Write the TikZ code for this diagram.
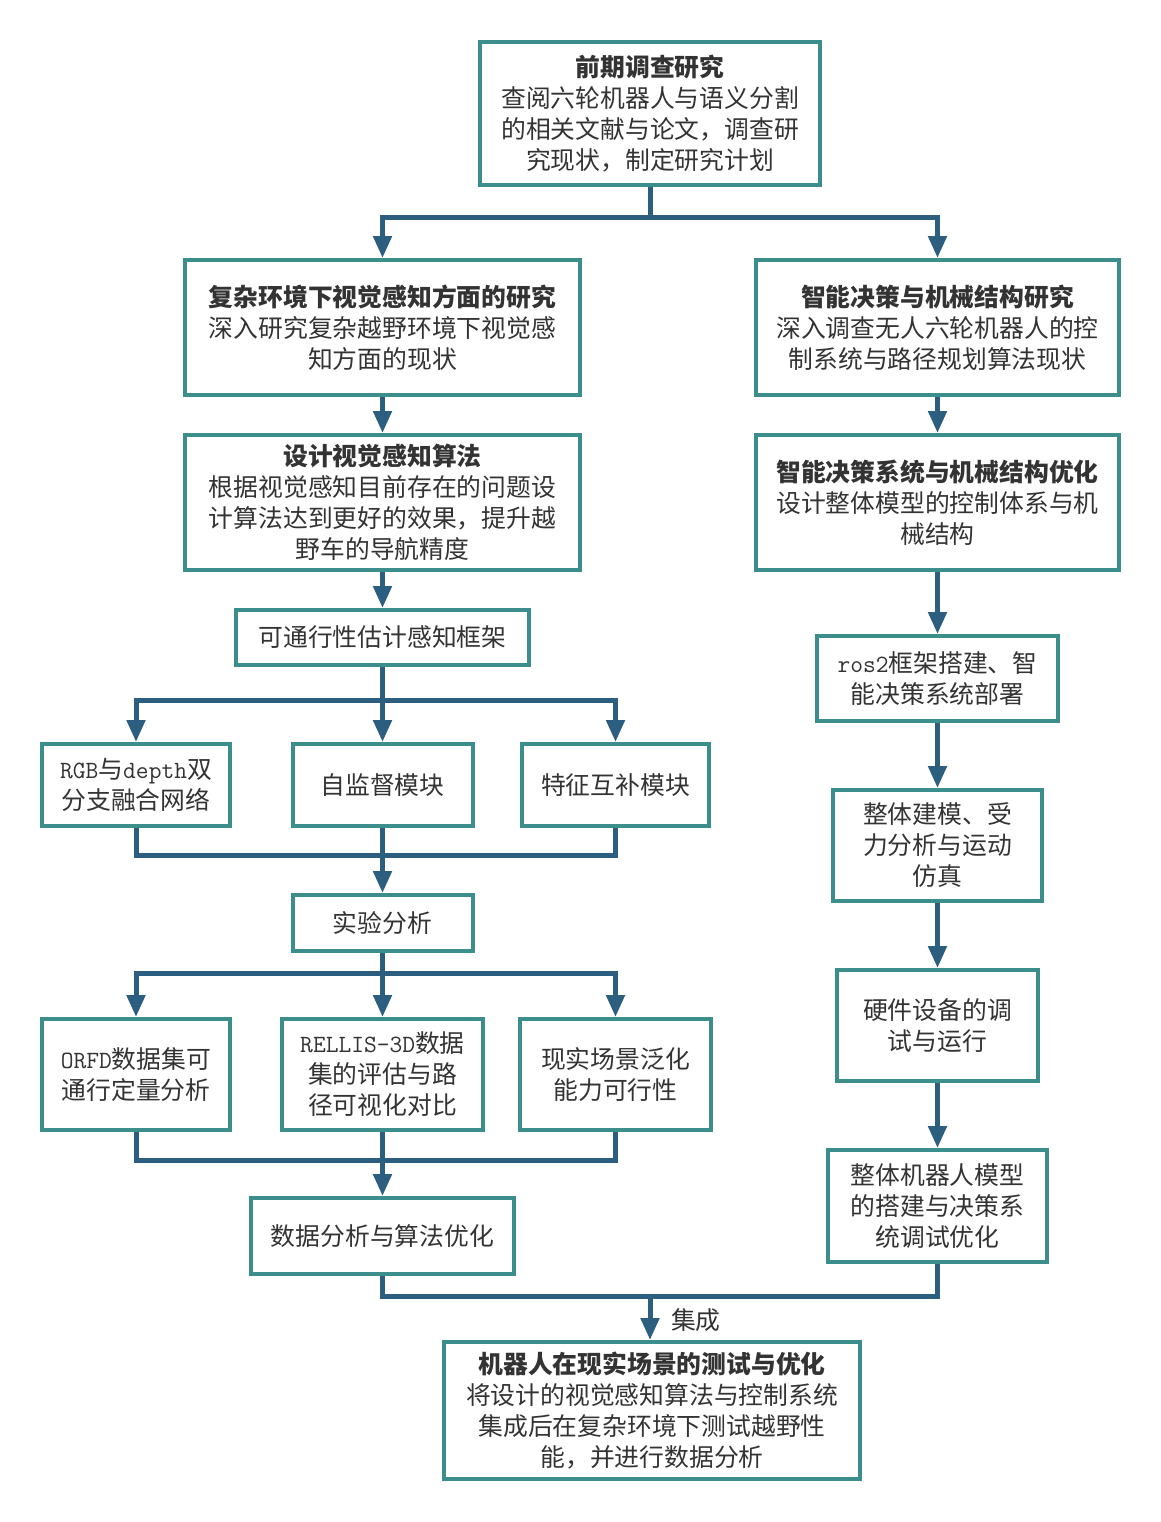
\documentclass[tikz,border=0pt]{standalone}
\usepackage{fontspec}
\setmainfont{Noto Sans CJK SC}
\usetikzlibrary{arrows.meta}
\definecolor{boxteal}{HTML}{3B8E8B}
\definecolor{linkblue}{HTML}{2C5E7F}
\definecolor{txtgray}{HTML}{333333}
\tikzset{
  box/.style={draw=boxteal, line width=2pt, fill=white, align=center, inner sep=0pt,
    text=txtgray, font=\fontsize{12.4}{15.5}\selectfont},
  link/.style={draw=linkblue, line width=2.5pt},
  arr/.style={link, -{Triangle[width=9pt,length=11pt]}}
}
\newcommand{\en}[1]{{\ttfamily #1}}

\begin{document}
\begin{tikzpicture}[x=0.5pt,y=-0.5pt]
  \useasboundingbox (0,0) rectangle (1161,1522);
  % top and the two research branches
  \node[box, minimum width=170pt, minimum height=71.5pt] (qq) at (650,113.5)
    {{\bfseries 前期调查研究}\\查阅六轮机器人与语义分割\\的相关文献与论文，调查研\\究现状，制定研究计划};
  \node[box, minimum width=197.5pt, minimum height=67.5pt] (sj1) at (382.5,327.5)
    {{\bfseries 复杂环境下视觉感知方面的研究}\\深入研究复杂越野环境下视觉感\\知方面的现状};
  \node[box, minimum width=181.5pt, minimum height=67.5pt] (zn1) at (937.5,327.5)
    {{\bfseries 智能决策与机械结构研究}\\深入调查无人六轮机器人的控\\制系统与路径规划算法现状};
  \node[box, minimum width=197.5pt, minimum height=67.5pt] (sj2) at (382.5,502.5)
    {{\bfseries 设计视觉感知算法}\\根据视觉感知目前存在的问题设\\计算法达到更好的效果，提升越\\野车的导航精度};
  \node[box, minimum width=181.5pt, minimum height=67.5pt] (zn2) at (937.5,502.5)
    {{\bfseries 智能决策系统与机械结构优化}\\设计整体模型的控制体系与机\\械结构};

  % left column
  \node[box, minimum width=146.5pt, minimum height=27.5pt] (ktx) at (382.5,637.5) {可通行性估计感知框架};
  \node[box, minimum width=94pt, minimum height=41pt] (rgb) at (136,785) {\en{RGB}与\en{depth}双\\分支融合网络};
  \node[box, minimum width=90pt, minimum height=41pt] (zjd) at (382.5,785) {自监督模块};
  \node[box, minimum width=93.5pt, minimum height=41pt] (tzhb) at (615.5,785) {特征互补模块};
  \node[box, minimum width=90pt, minimum height=28pt] (syfx) at (382.5,923) {实验分析};
  \node[box, minimum width=94pt, minimum height=55.5pt] (orfd) at (136,1074.5) {\en{ORFD}数据集可\\通行定量分析};
  \node[box, minimum width=100.5pt, minimum height=55.5pt] (rellis) at (382.5,1074.5) {\en{RELLIS-3D}数据\\集的评估与路\\径可视化对比};
  \node[box, minimum width=95.5pt, minimum height=55.5pt] (xscj) at (615.5,1074.5) {现实场景泛化\\能力可行性};
  \node[box, minimum width=131.5pt, minimum height=38pt] (sjfx) at (382.5,1236) {数据分析与算法优化};

  % right column
  \node[box, minimum width=120.5pt, minimum height=42.5pt] (ros) at (937.5,678.5) {\en{ros2}框架搭建、智\\能决策系统部署};
  \node[box, minimum width=104.5pt, minimum height=55.5pt] (jm) at (937.5,845.5) {整体建模、受\\力分析与运动\\仿真};
  \node[box, minimum width=100.5pt, minimum height=55.5pt] (yj) at (937.5,1025.5) {硬件设备的调\\试与运行};
  \node[box, minimum width=109.5pt, minimum height=56pt] (jqr) at (937.5,1206) {整体机器人模型\\的搭建与决策系\\统调试优化};

  % bottom
  \node[box, minimum width=208pt, minimum height=68.5pt] (cs) at (652,1410.5)
    {{\bfseries 机器人在现实场景的测试与优化}\\将设计的视觉感知算法与控制系统\\集成后在复杂环境下测试越野性\\能，并进行数据分析};

  \coordinate (s1) at (650,217);
  \coordinate (s2) at (382.5,700);
  \coordinate (m1) at (382.5,855);
  \coordinate (s3) at (382.5,973);
  \coordinate (m2) at (382.5,1160);
  \coordinate (m3) at (650,1296);

  \draw[link] (qq.south) -- (s1);
  \draw[arr] (s1) -| (sj1.north);
  \draw[arr] (s1) -| (zn1.north);
  \draw[arr] (sj1.south) -- (sj2.north);
  \draw[arr] (zn1.south) -- (zn2.north);
  \draw[arr] (sj2.south) -- (ktx.north);
  \draw[arr] (zn2.south) -- (ros.north);

  \draw[link] (ktx.south) -- (s2);
  \draw[arr] (s2) -| (rgb.north);
  \draw[arr] (s2) -- (zjd.north);
  \draw[arr] (s2) -| (tzhb.north);
  \draw[link] (rgb.south) |- (m1) -| (tzhb.south);
  \draw[arr] (zjd.south) -- (syfx.north);

  \draw[link] (syfx.south) -- (s3);
  \draw[arr] (s3) -| (orfd.north);
  \draw[arr] (s3) -- (rellis.north);
  \draw[arr] (s3) -| (xscj.north);
  \draw[link] (orfd.south) |- (m2) -| (xscj.south);
  \draw[arr] (rellis.south) -- (sjfx.north);

  \draw[arr] (ros.south) -- (jm.north);
  \draw[arr] (jm.south) -- (yj.north);
  \draw[arr] (yj.south) -- (jqr.north);

  \draw[link] (sjfx.south) |- (m3) -| (jqr.south);
  \draw[arr] (m3) -- (m3 |- cs.north);
  \node[anchor=west, text=txtgray, font=\fontsize{12.4}{15.5}\selectfont] (jc) at (664,1320) {集成};
\end{tikzpicture}
\end{document}
